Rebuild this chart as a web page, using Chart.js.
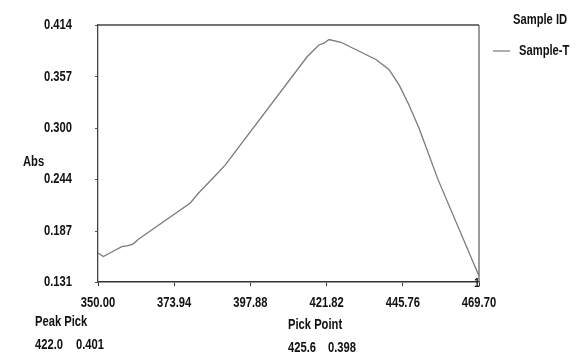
<!DOCTYPE html>
<html>
<head>
<meta charset="utf-8">
<script src="https://cdn.jsdelivr.net/npm/chart.js@4"></script>
<style>
  html, body { margin: 0; padding: 0; background: #fff; }
  #wrap { width: 585px; height: 355px; }
</style>
</head>
<body>
<div id="wrap"><canvas id="specChart" width="585" height="355"></canvas></div>
<script>
// Spectrum (wavelength in nm, absorbance)
const wavelengths = [350.0, 351.7, 354.3, 357.5, 359.5, 361.1, 362.7, 379.0, 381.6, 386.3, 390.0,
                     415.7, 419.4, 421.0, 422.6, 426.3, 437.3, 441.4, 444.6, 447.7, 450.9, 456.8, 469.3, 469.7];
const absorbance  = [0.163, 0.159, 0.164, 0.170, 0.171, 0.173, 0.178, 0.218, 0.229, 0.246, 0.260,
                     0.379, 0.392, 0.394, 0.398, 0.395, 0.376, 0.365, 0.348, 0.326, 0.300, 0.244, 0.141, 0.138];

const xTicks = [350.00, 373.94, 397.88, 421.82, 445.76, 469.70];
const yTicks = [0.131, 0.187, 0.244, 0.300, 0.357, 0.414];

const seriesName = 'Sample-T';
const peakPick = ['422.0', '0.401'];
const pickPoint = ['425.6', '0.398'];

// no narrow face installed, so squeeze Liberation Sans horizontally
const FONT = 'bold 14px "Liberation Sans", Arial, sans-serif';
const SQUEEZE = 0.8;
const INK = '#111';

function narrowText(ctx, text, x, y, align) {
    ctx.save();
    ctx.translate(x, y);
    ctx.scale(SQUEEZE, 1);
    ctx.textAlign = align || 'left';
    ctx.fillText(text, 0, 0);
    ctx.restore();
}

// Frame, tick labels and the free text of the printout
const extrasPlugin = {
    id: 'extras',
    afterDraw(chart) {
        const { ctx, chartArea: a, scales } = chart;
        ctx.save();
        ctx.strokeStyle = '#444';
        ctx.lineWidth = 1.3;
        ctx.beginPath();
        ctx.moveTo(a.left, a.top);
        ctx.lineTo(a.right, a.top);
        ctx.stroke();
        ctx.strokeStyle = '#666';
        ctx.beginPath();
        ctx.moveTo(a.right, a.top);
        ctx.lineTo(a.right, a.bottom);
        ctx.stroke();

        ctx.fillStyle = INK;
        ctx.font = FONT;
        ctx.textBaseline = 'middle';

        scales.x.ticks.forEach(t => {
            narrowText(ctx, t.value.toFixed(2), scales.x.getPixelForValue(t.value), a.bottom + 21, 'center');
        });
        scales.y.ticks.forEach(t => {
            narrowText(ctx, t.value.toFixed(3), 72, scales.y.getPixelForValue(t.value), 'right');
        });

        narrowText(ctx, 'Abs', 23, 162);
        narrowText(ctx, 'Sample ID', 513, 20);
        narrowText(ctx, seriesName, 519, 51);
        narrowText(ctx, 'Peak Pick', 35, 322);
        narrowText(ctx, peakPick[0], 35, 345);
        narrowText(ctx, peakPick[1], 76, 345);
        narrowText(ctx, 'Pick Point', 288, 325);
        narrowText(ctx, pickPoint[0], 288, 348);
        narrowText(ctx, pickPoint[1], 328, 348);

        // legend swatch
        ctx.strokeStyle = '#777';
        ctx.lineWidth = 1.2;
        ctx.beginPath();
        ctx.moveTo(493, 51);
        ctx.lineTo(510, 51);
        ctx.stroke();

        // cursor marker at the end of the axis
        ctx.font = 'bold 12px "Liberation Sans", Arial, sans-serif';
        narrowText(ctx, '1', a.right - 2, a.bottom + 2, 'center');
        ctx.restore();
    }
};

const ctx = document.getElementById('specChart').getContext('2d');

new Chart(ctx, {
    type: 'line',
    data: {
        datasets: [{
            label: seriesName,
            data: wavelengths.map((w, i) => ({ x: w, y: absorbance[i] })),
            borderColor: '#7a7a7a',
            borderWidth: 1.3,
            pointRadius: 0,
            tension: 0,
            fill: false
        }]
    },
    options: {
        responsive: false,
        animation: false,
        events: [],
        layout: { padding: { left: 0, top: 25, right: 106, bottom: 0 } },
        plugins: {
            legend: { display: false },
            tooltip: { enabled: false }
        },
        scales: {
            x: {
                type: 'linear',
                min: 350,
                max: 469.7,
                afterFit(scale) { scale.height = 73; },
                afterBuildTicks(scale) { scale.ticks = xTicks.map(v => ({ value: v })); },
                grid: { drawOnChartArea: false, tickLength: 4, color: '#333' },
                border: { color: '#333', width: 1.6 },
                ticks: { display: false, autoSkip: false }
            },
            y: {
                min: 0.131,
                max: 0.414,
                afterFit(scale) { scale.width = 98; },
                afterBuildTicks(scale) { scale.ticks = yTicks.map(v => ({ value: v })); },
                grid: { drawOnChartArea: false, tickLength: 3, color: '#555' },
                border: { color: '#444', width: 1.3 },
                ticks: { display: false, autoSkip: false }
            }
        }
    },
    plugins: [extrasPlugin]
});
</script>
</body>
</html>
